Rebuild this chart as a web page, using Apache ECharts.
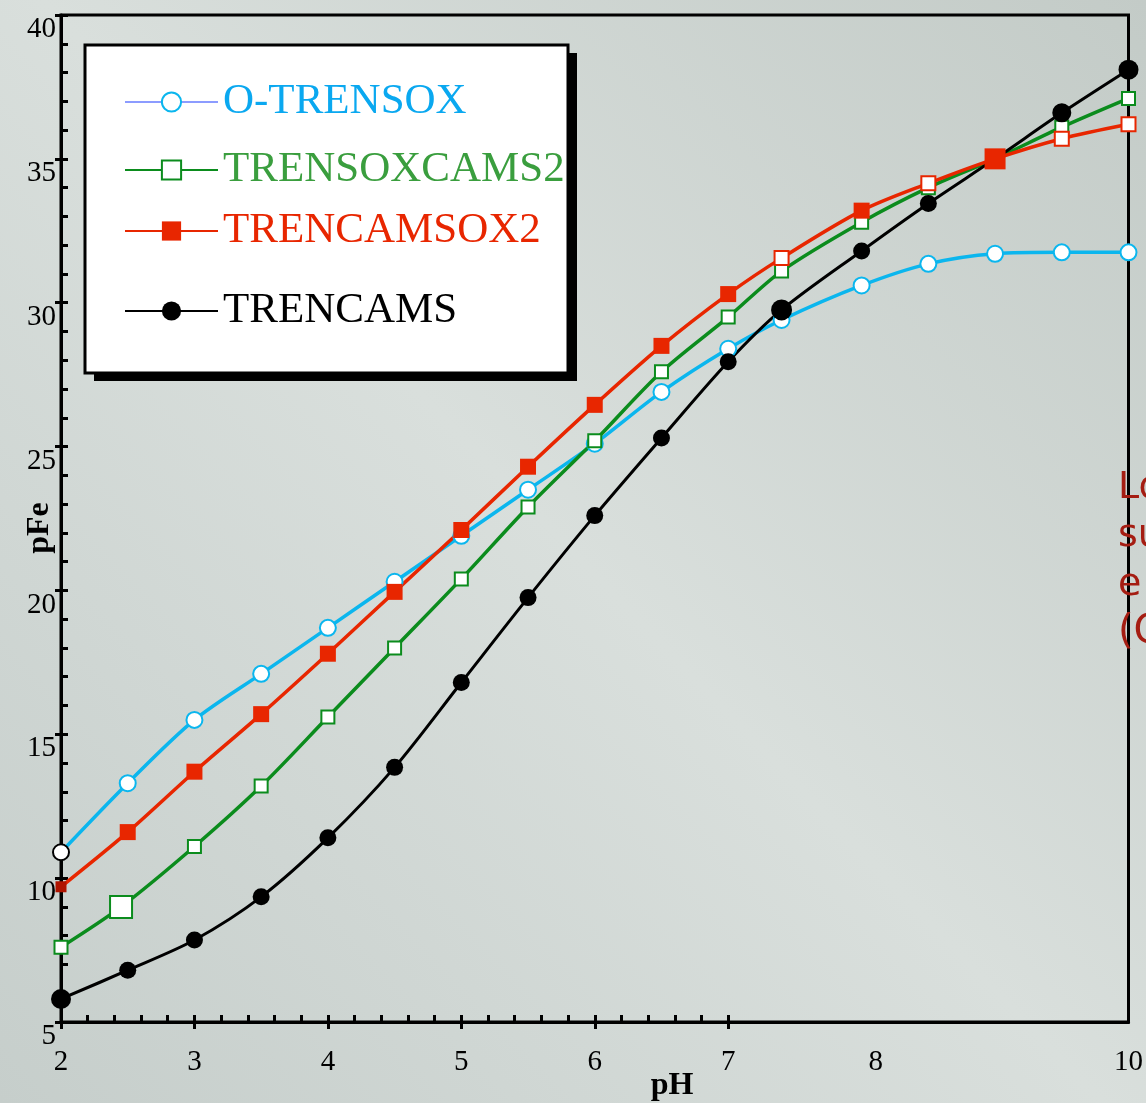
<!DOCTYPE html>
<html>
<head>
<meta charset="utf-8">
<script src="https://cdn.jsdelivr.net/npm/echarts@6/dist/echarts.min.js"></script>
<style>
  html, body { margin: 0; padding: 0; }
  #chart { width: 1146px; height: 1103px; }
</style>
</head>
<body>
<div id="chart"></div>
<script>
// pH values where the markers sit
const pH = [2, 2.5, 3, 3.5, 4, 4.5, 5, 5.5, 6, 6.5, 7, 7.4, 8, 8.5, 9, 9.5, 10];
const pHGreen = [2, 2.45, 3, 3.5, 4, 4.5, 5, 5.5, 6, 6.5, 7, 7.4, 8, 8.5, 9, 9.5, 10];

// pFe
const oTrensox = [10.9, 13.3, 15.5, 17.1, 18.7, 20.3, 21.9, 23.5, 25.1, 26.9, 28.4, 29.4, 30.6, 31.35, 31.7, 31.75, 31.75];
const trensoxcams2 = [7.6, 9.0, 11.1, 13.2, 15.6, 18.0, 20.4, 22.9, 25.2, 27.6, 29.5, 31.1, 32.8, 34.0, 35.0, 36.1, 37.1];
const trencamsox2 = [9.7, 11.6, 13.7, 15.7, 17.8, 19.95, 22.1, 24.3, 26.45, 28.5, 30.3, 31.55, 33.2, 34.15, 35.0, 35.7, 36.2];
const trencams = [5.8, 6.8, 7.85, 9.35, 11.4, 13.85, 16.8, 19.75, 22.6, 25.3, 27.95, 29.75, 31.8, 33.45, 35.0, 36.6, 38.1];

// ticks and labels
const xLabels = [2, 3, 4, 5, 6, 7, 8, 10];
const xMajorTicks = [2, 3, 4, 5, 6, 7];
const yMajorTicks = [5, 10, 15, 20, 25, 30, 35, 40];

const xMinorTicks = [];
for (let i = 0; i <= 25; i++) xMinorTicks.push(+(2 + i * 0.2).toFixed(1));
const yMinorTicks = [];
for (let v = 5; v <= 40; v++) yMinorTicks.push(v);

const SERIF = '"Liberation Serif", "Times New Roman", serif';
const CYAN = "#0bb6ee";
const GREEN = "#0b8c1d";
const RED = "#e82600";

function pairs(xs, ys, overrides) {
  return ys.map(function (y, i) {
    const item = { value: [xs[i], y] };
    if (overrides && overrides[i]) Object.assign(item, overrides[i]);
    return item;
  });
}

const chart = echarts.init(document.getElementById("chart"));

const legendBase = {
  left: 124,
  orient: "vertical",
  padding: 0,
  itemWidth: 93,
  itemHeight: 24,
  selectedMode: false,
  z: 5,
};

const option = {
  backgroundColor: {
    type: "linear",
    x: 1,
    y: 0,
    x2: 0,
    y2: 1,
    colorStops: [
      { offset: 0, color: "#c3cbc7" },
      { offset: 0.5, color: "#d9dfdc" },
      { offset: 1, color: "#c6cecb" },
    ],
  },
  animation: false,
  grid: {
    left: 61,
    right: 14,
    top: 15,
    bottom: 81,
    show: true,
    borderColor: "#000",
    borderWidth: 3,
    backgroundColor: "transparent",
  },
  xAxis: [
    {
      type: "value",
      min: 2,
      max: 10,
      position: "bottom",
      axisLine: { lineStyle: { color: "#000", width: 3 } },
      axisTick: { inside: true, length: 7, customValues: xMinorTicks, lineStyle: { color: "#000", width: 3 } },
      axisLabel: { show: false },
      splitLine: { show: false },
    },
    {
      type: "value",
      min: 2,
      max: 10,
      position: "bottom",
      axisLine: { show: false },
      axisTick: { inside: false, length: 7, customValues: xMajorTicks, lineStyle: { color: "#000", width: 3 } },
      axisLabel: {
        customValues: xLabels,
        color: "#000",
        fontFamily: SERIF,
        fontSize: 29,
        margin: 26,
        // the "8" sits a little right of its tick in the original
        formatter: function (v) { return v === 8 ? "{s|8}" : String(v); },
        rich: { s: { padding: [0, 0, 0, 28], fontFamily: SERIF, fontSize: 29, color: "#000" } },
      },
      splitLine: { show: false },
    },
  ],
  yAxis: [
    {
      type: "value",
      min: 5,
      max: 40,
      position: "left",
      axisLine: { show: true, lineStyle: { color: "#000", width: 3 } },
      axisTick: { show: true, inside: true, length: 7, customValues: yMinorTicks, lineStyle: { color: "#000", width: 3 } },
      axisLabel: { show: false },
      splitLine: { show: false },
    },
    {
      type: "value",
      min: 5,
      max: 40,
      position: "left",
      axisLine: { show: false },
      axisTick: { show: true, inside: false, length: 6, customValues: yMajorTicks, lineStyle: { color: "#000", width: 3 } },
      axisLabel: {
        customValues: yMajorTicks,
        color: "#000",
        fontFamily: SERIF,
        fontSize: 29,
        margin: 5,
        verticalAlign: "top",
      },
      splitLine: { show: false },
    },
  ],
  legend: [
    Object.assign({}, legendBase, {
      top: 80,
      data: [{ name: "O-TRENSOX", lineStyle: { color: "#8c9cff" } }],
      textStyle: { color: "#0aa8f0", fontFamily: SERIF, fontSize: 43, lineHeight: 44 },
    }),
    Object.assign({}, legendBase, {
      top: 148,
      data: [{ name: "TRENSOXCAMS2" }],
      textStyle: { color: "#3a9e3e", fontFamily: SERIF, fontSize: 43, lineHeight: 44 },
    }),
    Object.assign({}, legendBase, {
      top: 209,
      data: [{ name: "TRENCAMSOX2" }],
      textStyle: { color: RED, fontFamily: SERIF, fontSize: 43, lineHeight: 44 },
    }),
    Object.assign({}, legendBase, {
      top: 289,
      data: [{ name: "TRENCAMS" }],
      textStyle: { color: "#000", fontFamily: SERIF, fontSize: 43, lineHeight: 44 },
    }),
  ],
  graphic: [
    { type: "rect", z: 3, shape: { x: 94, y: 53, width: 483, height: 328 }, style: { fill: "#000" } },
    { type: "rect", z: 4, shape: { x: 85, y: 45, width: 483, height: 328 }, style: { fill: "#fff", stroke: "#000", lineWidth: 3 } },
    {
      type: "text", x: 672, y: 1086, z: 5,
      style: { text: "pH", font: "bold 32px " + SERIF, fill: "#000", align: "center", verticalAlign: "middle" },
    },
    {
      type: "text", x: 40, y: 528, rotation: Math.PI / 2, z: 5,
      style: { text: "pFe", font: "bold 32px " + SERIF, fill: "#000", align: "center", verticalAlign: "middle" },
    },
    { type: "text", x: 1118, y: 488, z: 5, style: { text: "Lo", font: "38px 'DejaVu Sans'", fill: "#a51d12", verticalAlign: "middle" } },
    { type: "text", x: 1118, y: 536, z: 5, style: { text: "su", font: "38px 'DejaVu Sans'", fill: "#a51d12", verticalAlign: "middle" } },
    { type: "text", x: 1118, y: 585, z: 5, style: { text: "e", font: "38px 'DejaVu Sans'", fill: "#a51d12", verticalAlign: "middle" } },
    { type: "text", x: 1118, y: 633, z: 5, style: { text: "(C", font: "40px 'DejaVu Sans'", fill: "#a51d12", verticalAlign: "middle" } },
  ],
  series: [
    {
      name: "O-TRENSOX",
      type: "line",
      smooth: 0.3,
      clip: false,
      symbol: "emptyCircle",
      symbolSize: 16,
      data: pairs(pH, oTrensox, { 0: { itemStyle: { color: "#000" } } }),
      itemStyle: { color: CYAN, borderWidth: 3.5 },
      lineStyle: { color: CYAN, width: 3.5 },
    },
    {
      name: "TRENSOXCAMS2",
      type: "line",
      smooth: 0.3,
      clip: false,
      symbol: "emptyRect",
      symbolSize: 13,
      data: pairs(pHGreen, trensoxcams2, { 1: { symbolSize: 22 } }),
      itemStyle: { color: GREEN, borderWidth: 3 },
      lineStyle: { color: GREEN, width: 3.5 },
    },
    {
      name: "TRENCAMS",
      type: "line",
      smooth: 0.3,
      clip: false,
      symbol: "circle",
      symbolSize: 17,
      data: pairs(pH, trencams, { 0: { symbolSize: 20 }, 11: { symbolSize: 21 }, 15: { symbolSize: 19 }, 16: { symbolSize: 20 } }),
      itemStyle: { color: "#000" },
      lineStyle: { color: "#000", width: 3 },
    },
    {
      name: "TRENCAMSOX2",
      type: "line",
      smooth: 0.3,
      clip: false,
      symbol: "rect",
      symbolSize: 16,
      data: pairs(pH, trencamsox2, {
        0: { symbolSize: 11, itemStyle: { color: "#b01400" } },
        11: { symbol: "emptyRect", symbolSize: 14, itemStyle: { borderWidth: 3 } },
        13: { symbol: "emptyRect", symbolSize: 14, itemStyle: { borderWidth: 3 } },
        14: { symbolSize: 21 },
        15: { symbol: "emptyRect", symbolSize: 14, itemStyle: { borderWidth: 3 } },
        16: { symbol: "emptyRect", symbolSize: 14, itemStyle: { borderWidth: 3 } },
      }),
      itemStyle: { color: RED },
      lineStyle: { color: RED, width: 3.5 },
    },
  ],
};

chart.setOption(option);
</script>
</body>
</html>
